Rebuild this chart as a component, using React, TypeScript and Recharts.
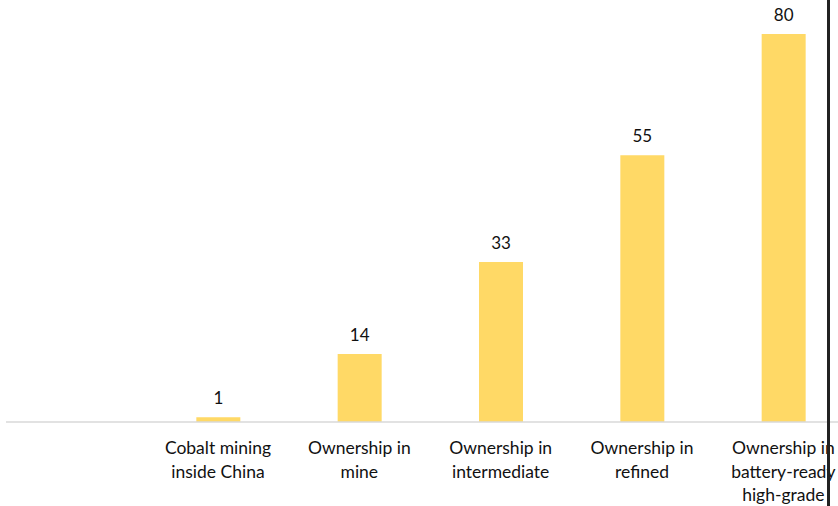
import React from "react";
import { BarChart, Bar, XAxis, YAxis, LabelList } from "recharts";

const categories = [
  "",
  "Cobalt mining\ninside China",
  "Ownership in\nmine",
  "Ownership in\nintermediate",
  "Ownership in\nrefined",
  "Ownership in\nbattery-ready\nhigh-grade",
];
const values: (number | null)[] = [null, 1, 14, 33, 55, 80];

const data = categories.map((c, i) => ({ name: c, value: values[i] }));

const FONT = "Lato, 'Open Sans', sans-serif";

const Tick = (props: any) => {
  const { x, y, payload } = props;
  const lines = String(payload.value).split("\n");
  return (
    <text x={x} y={y} textAnchor="middle" fill="#111" fontSize={17.5} fontFamily={FONT}>
      {lines.map((l, i) => (
        <tspan key={i} x={x} y={y + 32 + i * 23.5}>
          {l}
        </tspan>
      ))}
    </text>
  );
};

export default function App() {
  return (
    <div
      style={{
        position: "absolute",
        left: 0,
        top: 0,
        width: 838,
        height: 506,
        overflow: "hidden",
        background: "#fff",
      }}
    >
      <BarChart
        width={854}
        height={506}
        data={data}
        margin={{ top: 0, right: 0, bottom: 0, left: 6 }}
        barCategoryGap={0}
      >
        <YAxis hide domain={[0, 87]} />
        <XAxis
          dataKey="name"
          height={84}
          interval={0}
          tickLine={false}
          tickSize={0}
          tickMargin={0}
          axisLine={{ stroke: "#d9d9d9", strokeWidth: 1.5 }}
          tick={<Tick />}
        />
        <Bar dataKey="value" fill="#FFD966" barSize={44} isAnimationActive={false}>
          <LabelList
            dataKey="value"
            position="top"
            offset={13}
            fill="#111"
            fontSize={17}
            fontFamily={FONT}
          />
        </Bar>
      </BarChart>
      <div
        style={{
          position: "absolute",
          left: 827,
          top: 0,
          width: 3,
          height: 506,
          background: "#222",
        }}
      />
    </div>
  );
}
